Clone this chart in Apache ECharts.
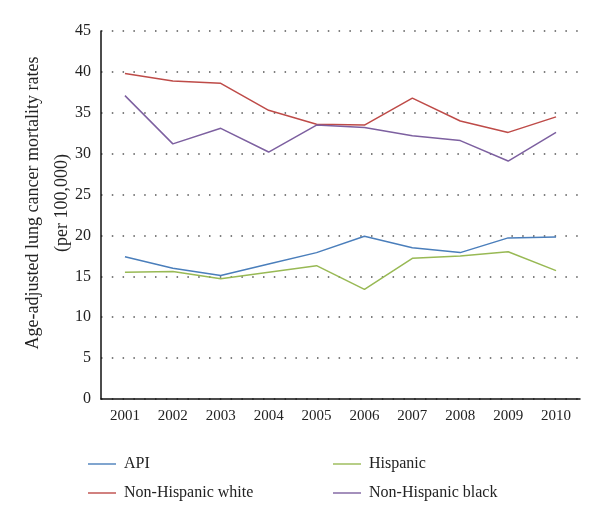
<!DOCTYPE html>
<html>
<head>
<meta charset="utf-8">
<script src="https://cdn.jsdelivr.net/npm/echarts@6/dist/echarts.min.js"></script>
<style>
  html, body { margin: 0; padding: 0; background: #fff; }
  #chart { width: 600px; height: 525px; }
</style>
</head>
<body>
<div id="chart"></div>
<script>
// years on the x axis
const years = ['2001', '2002', '2003', '2004', '2005', '2006', '2007', '2008', '2009', '2010']
// rates per 100,000
const api = [17.4, 16.0, 15.1, 16.5, 17.9, 19.9, 18.5, 17.9, 19.7, 19.8]
const hispanic = [15.5, 15.6, 14.7, 15.5, 16.3, 13.4, 17.2, 17.5, 18.0, 15.7]
const nhWhite = [39.8, 38.9, 38.6, 35.3, 33.6, 33.5, 36.8, 34.0, 32.6, 34.5]
const nhBlack = [37.1, 31.2, 33.1, 30.2, 33.5, 33.2, 32.2, 31.6, 29.1, 32.6]

const serif = '"Liberation Serif", "DejaVu Serif", serif'

const chart = echarts.init(document.getElementById('chart'))

// one line series
const makeLine = (name, data, color) => ({
    name: name,
    type: 'line',
    data: data,
    symbol: 'none',
    color: color,
    lineStyle: { color: color, width: 1.5 },
    emphasis: { disabled: true }
})

const legendBase = {
    orient: 'vertical',
    top: 451,
    itemWidth: 28,
    itemHeight: 14,
    itemGap: 13,
    icon: 'path://M0,6.3 L28,6.3 L28,7.7 L0,7.7 Z',
    textStyle: { fontFamily: serif, fontSize: 16, color: '#222', padding: [0, 0, 0, 3] }
}

const option = {
    animation: false,
    grid: {
        left: 101,
        right: 20,
        top: 31,
        bottom: 126
    },
    xAxis: {
        type: 'category',
        data: years,
        boundaryGap: true,
        axisTick: { show: false },
        axisLine: { lineStyle: { color: '#111', width: 1.5 } },
        axisLabel: { fontFamily: serif, fontSize: 15, color: '#222', margin: 10 }
    },
    yAxis: {
        type: 'value',
        min: 0,
        max: 45,
        interval: 5,
        axisLine: { show: true, lineStyle: { color: '#111', width: 1.5 } },
        axisTick: { show: false },
        axisLabel: { fontFamily: serif, fontSize: 16, color: '#222', margin: 10 },
        splitLine: {
            lineStyle: { color: '#555', width: 1.5, type: [1.5, 9.3] }
        }
    },
    legend: [
        Object.assign({}, legendBase, { left: 83, data: ['API', 'Non-Hispanic white'] }),
        Object.assign({}, legendBase, { left: 328, data: ['Hispanic', 'Non-Hispanic black'] })
    ],
    graphic: [
        {
            type: 'text',
            x: 19,
            y: 203,
            rotation: Math.PI / 2,
            style: {
                text: 'Age-adjusted lung cancer mortality rates\n(per 100,000)',
                fontFamily: serif,
                fontSize: 18,
                fill: '#222',
                align: 'center',
                verticalAlign: 'top',
                lineHeight: 29
            }
        }
    ],
    series: [
        makeLine('API', api, '#4a7ebb'),
        makeLine('Hispanic', hispanic, '#98b954'),
        makeLine('Non-Hispanic white', nhWhite, '#be4b48'),
        makeLine('Non-Hispanic black', nhBlack, '#7d60a0')
    ]
}

chart.setOption(option)
</script>
</body>
</html>
